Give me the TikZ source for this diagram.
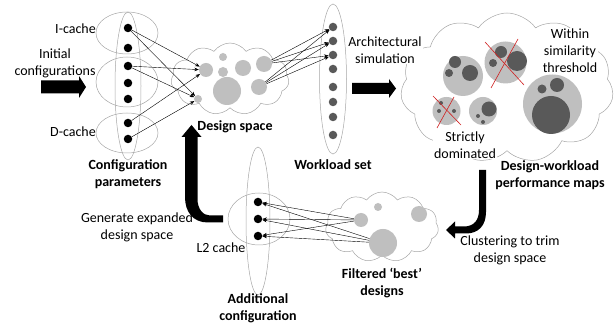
\documentclass[tikz,border=0pt]{standalone}
\usepackage{fontspec}
\setmainfont{Carlito}
\usetikzlibrary{shapes.geometric,shapes.symbols,arrows.meta}
\definecolor{lgray}{HTML}{BFBFBF}
\definecolor{dgray}{HTML}{595959}
\definecolor{lineg}{HTML}{A6A6A6}
\definecolor{redx}{HTML}{D02020}
\begin{document}
\begin{tikzpicture}[x=1pt,y=-1pt,
  txt/.style={font=\fontsize{14}{17}\selectfont, align=center, inner sep=1pt},
  btxt/.style={font=\fontsize{14}{17}\selectfont\bfseries, align=center, inner sep=1pt},
  wtxt/.style={txt, fill=white},
  ell/.style={ellipse, draw=lineg, line width=0.5pt, inner sep=0pt},
  blk/.style={circle, fill=black, inner sep=0pt, minimum size=8.5pt},
  wdot/.style={circle, fill=dgray, inner sep=0pt, minimum size=8.5pt},
  lg/.style={circle, fill=lgray, inner sep=0pt, minimum size=#1},
  dk/.style={circle, fill=dgray, inner sep=0pt, minimum size=#1},
  cld/.style={cloud, cloud puffs=11, cloud puff arc=110, draw=lineg, fill=white, line width=0.5pt, inner sep=0pt},
  con/.style={line width=0.4pt, -{Stealth[length=4.5pt,width=3.5pt]}},
  cross/.style={draw=redx, line width=0.6pt},
]
\useasboundingbox (0,0) rectangle (616,328);

% clouds
\node[cld, minimum width=118pt, minimum height=72pt] (dscloud) at (230,79) {};
\node[cld, minimum width=213pt, minimum height=150pt] (pmcloud) at (507,88) {};
\node[cld, minimum width=113pt, minimum height=70pt] (fcloud) at (382,227) {};

% design space circles
\node[lg=14pt] (ds1) at (206,70) {};
\node[lg=8pt]  (ds2) at (223,57) {};
\node[lg=10pt] (ds3) at (223,72) {};
\node[lg=16pt] (ds4) at (243,68) {};
\node[lg=16pt] (ds5) at (264,64) {};
\node[lg=28pt] (ds6) at (227,91) {};
\node[lg=16pt] (ds7) at (259,87) {};
\node[lg=8pt]  (ds8) at (198,99) {};

% performance map circles
\node[lg=40pt] (pa) at (463,76) {};
\node[dk=12pt] at (455,62) {};
\node[dk=8pt]  at (449,73) {};
\node[dk=16pt] at (470,73) {};
\node[lg=42pt] (pb) at (505.5,62.5) {};
\node[dk=12pt] at (501,52) {};
\node[dk=8pt]  at (493,63) {};
\node[dk=20pt] at (517,61) {};
\node[lg=59pt] (pc) at (552.5,104) {};
\node[dk=38pt] at (551,115) {};
\node[dk=14pt] at (557,85) {};
\node[dk=9pt]  at (542,89) {};
\node[lg=28pt] (pd) at (446.5,111) {};
\node[dk=4pt] at (441,103) {};
\node[dk=4pt] at (439,111) {};
\node[dk=4pt] at (454,111) {};
\node[lg=28pt] (pe) at (483,111) {};
\node[dk=15pt] at (489,109) {};
\node[dk=4pt] at (478,116) {};
\node[dk=4pt] at (483,122) {};
\draw[cross] (485,42) -- (524,85);
\draw[cross] (518,39) -- (491,88);
\draw[cross] (433,96) -- (461,125);
\draw[cross] (454,97) -- (437,128);

% filtered circles
\node[lg=14pt] (f1) at (361,220) {};
\node[lg=8pt]  (f2) at (378,207) {};
\node[lg=16pt] (f3) at (419,214) {};
\node[lg=28pt] (f4) at (383,243) {};

% ellipses
\node[ell, minimum width=26pt, minimum height=148pt] (ecfg) at (128,86) {};
\node[ell, minimum width=62pt, minimum height=42pt] (ei) at (127,33) {};
\node[ell, minimum width=62pt, minimum height=50pt] (em) at (127,82) {};
\node[ell, minimum width=62pt, minimum height=40pt] (ed) at (127,133) {};
\node[ell, minimum width=27pt, minimum height=150pt] (ework) at (333,79) {};
\node[ell, minimum width=24pt, minimum height=148pt] (el2v) at (258,221) {};
\node[ell, minimum width=62pt, minimum height=52pt] (el2h) at (259,219) {};

% config dots
\foreach \i/\y in {1/28,2/48,3/66,4/83,5/99,6/123,7/139}
  \node[blk] (c\i) at (128,\y) {};
% workload dots
\foreach \i/\y in {1/27,2/41,3/55,4/69,5/87,6/102,7/117,8/135}
  \node[wdot] (w\i) at (333,\y) {};
% L2 dots
\foreach \i/\y in {1/202,2/219,3/236}
  \node[blk] (l\i) at (258,\y) {};

% connectors
\draw[con] (c1) -- (ds1);
\draw[con] (c1) -- (ds8);
\draw[con] (c3) -- (ds1);
\draw[con] (c3) -- (ds8);
\draw[con] (c6) -- (ds1);
\draw[con] (c7) -- (ds8);
\foreach \s in {ds5,ds7}
  \foreach \t in {w1,w2,w3}
    \draw[con] (\s) -- (\t);
\foreach \s in {f1,f4}
  \foreach \t in {l1,l2,l3}
    \draw[con] (\s) -- (\t);

% block arrows
\fill (41,80.5) -- (79,80.5) -- (79,76) -- (86,87) -- (79,98) -- (79,93.5) -- (41,93.5) -- cycle;
\fill (352,83) -- (389,83) -- (389,79) -- (396,88.5) -- (389,98) -- (389,94) -- (352,94) -- cycle;
\fill (223,222.5) -- (208,222.5) .. controls (193,222.5) and (185,212) .. (185,197)
  -- (185,137) -- (181.5,137) -- (191.5,125) -- (201.5,137) -- (197.5,137) -- (197.5,199)
  .. controls (197.5,209) and (203,215.5) .. (210,215.5) -- (223,215.5) -- cycle;
\fill (486,170) -- (486,212) .. controls (486,226) and (478,233.5) .. (466,233.5) -- (455,233.5)
  -- (455,238.5) -- (446,230) -- (455,221.5) -- (455,226.5) -- (464,226.5)
  .. controls (474,226.5) and (479,220) .. (479,210) -- (479,170) -- cycle;

% texts
\node[txt, anchor=east] (ticache) at (97,29) {I-cache};
\node[txt] (tinit) at (55,63) {Initial\\configurations};
\node[txt, anchor=east] (tdcache) at (97,132) {D-cache};
\node[btxt] (tcfg) at (128,174) {Configuration\\parameters};
\node[btxt] (tds) at (235,127) {Design space};
\node[btxt] (twl) at (333,165) {Workload set};
\node[wtxt] (tarch) at (385,50) {Architectural\\simulation};
\node[wtxt] (twithin) at (570,51) {Within\\similarity\\threshold};
\node[wtxt] (tstrict) at (465,145) {Strictly\\dominated};
\node[btxt] (tpm) at (550,175) {Design-workload\\performance maps};
\node[txt] (tclu) at (510,250) {Clustering to trim\\design space};
\node[btxt] (tfil) at (382,283) {Filtered ‘best’\\designs};
\node[txt] (tgen) at (137,227) {Generate expanded\\design space};
\node[txt] (tl2) at (221,248) {L2 cache};
\node[btxt] (tadd) at (258,308) {Additional\\configuration};
\end{tikzpicture}
\end{document}
